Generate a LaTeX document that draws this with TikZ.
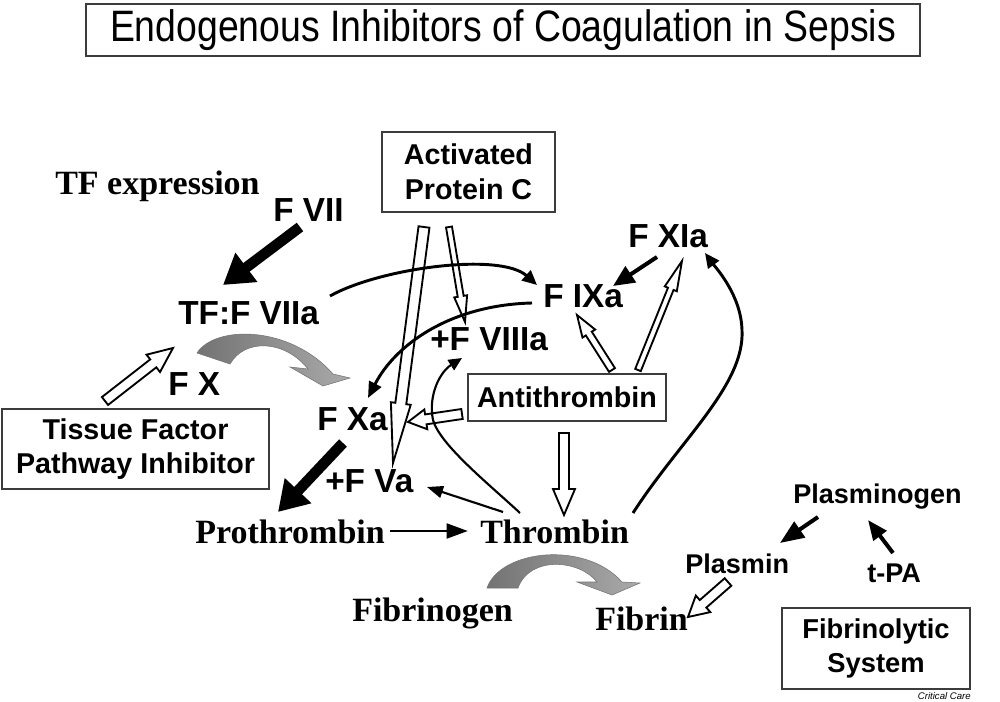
\documentclass[tikz,border=0pt]{standalone}
\usepackage{fontspec}
\setmainfont{Liberation Serif}
\newfontfamily\arialf{Liberation Sans}
\newfontfamily\narrowf[FakeStretch=0.85]{Liberation Sans}
\usetikzlibrary{arrows.meta,calc}
\definecolor{ribbonA}{RGB}{115,115,115}
\definecolor{ribbonB}{RGB}{170,170,170}
\definecolor{boxline}{RGB}{60,60,60}
\newcommand{\hollowarrow}[5]{%
  \coordinate (hb) at ($(#2)!#5*0.75pt!(#1)$);
  \draw[hollowstyle] ($(#1)!#3*0.75pt!90:(#2)$) -- ($(hb)!#3*0.75pt!90:(#2)$) -- ($(hb)!#4*0.75pt!90:(#2)$) -- (#2) -- ($(hb)!#4*0.75pt!-90:(#2)$) -- ($(hb)!#3*0.75pt!-90:(#2)$) -- ($(#1)!#3*0.75pt!-90:(#2)$) -- cycle;
}
\tikzset{
  sanslbl/.style={font=\arialf\bfseries\fontsize{25}{30}\selectfont, inner sep=0pt, anchor=base west},
  seriflbl/.style={font=\bfseries\fontsize{25.5}{30}\selectfont, inner sep=0pt, anchor=base west},
  smalllbl/.style={font=\arialf\bfseries\fontsize{20.3}{24}\selectfont, inner sep=0pt, anchor=base west},
  infobox/.style={draw=boxline, line width=0.9pt, align=center, inner sep=0pt, font=\arialf\bfseries\fontsize{21.5}{26}\selectfont},
  titlebox/.style={draw=boxline, line width=1.1pt, inner sep=0pt, font=\narrowf\fontsize{33}{36}\selectfont},
  bigarrow/.style={line width=8pt, -{Triangle[length=22pt,width=26pt]}},
  hollowstyle/.style={draw=black, line width=1.4pt, fill=white, line join=miter},
  ribbon/.style={draw=black!55, line width=0.4pt, left color=ribbonA, right color=ribbonB},
}
\begin{document}
\begin{tikzpicture}[x=0.75pt, y=-0.75pt]
\useasboundingbox (0,0) rectangle (1000,702);
\fill[white] (0,0) rectangle (1000,702);

% boxes
\node[titlebox, minimum width=834*0.75pt, minimum height=52*0.75pt] (title) at (503,30) {Endogenous Inhibitors of Coagulation in Sepsis};
\node[infobox, minimum width=173*0.75pt, minimum height=80*0.75pt] (apc) at (468.5,172) {Activated\\Protein C};
\node[infobox, minimum width=198*0.75pt, minimum height=47*0.75pt] (at) at (567,397.5) {Antithrombin};
\node[infobox, minimum width=267*0.75pt, minimum height=80*0.75pt] (tfpi) at (135.5,449) {Tissue Factor\\Pathway Inhibitor};
\node[infobox, font=\arialf\bfseries\fontsize{20.5}{26}\selectfont, minimum width=188*0.75pt, minimum height=81*0.75pt] (fibsys) at (876,648.5) {Fibrinolytic\\System};

% labels
\node[seriflbl] (tfexp) at (55,195) {TF expression};
\node[sanslbl] (f7) at (273,222) {F VII};
\node[sanslbl] (tf7a) at (178,325) {TF:F VIIa};
\node[sanslbl] (fx) at (168,395) {F X};
\node[sanslbl] (fxa) at (317,430) {F Xa};
\node[sanslbl] (fva) at (325,492) {+F Va};
\node[sanslbl] (f8a) at (430,350) {+F VIIIa};
\node[sanslbl] (f9a) at (543,308) {F IXa};
\node[sanslbl] (f11a) at (628,248) {F XIa};
\node[seriflbl] (proth) at (195,543) {Prothrombin};
\node[seriflbl] (thr) at (480,543) {Thrombin};
\node[seriflbl] (fbgn) at (352,621) {Fibrinogen};
\node[seriflbl] (fbn) at (595,630) {Fibrin};
\node[smalllbl] (plg) at (793,503) {Plasminogen};
\node[smalllbl] (pls) at (685,573) {Plasmin};
\node[smalllbl] (tpa) at (867,582) {t-PA};
\node[font=\arialf\itshape\fontsize{7.2}{8}\selectfont, inner sep=0pt, anchor=base east] (cc) at (971,699) {Critical Care};

% gray curved arrows
\path[ribbon] (197,353) .. controls (215,325) and (290,325) .. (333,374) -- (350,378) -- (323,386) -- (290,367) -- (308,369) .. controls (285,340) and (245,338) .. (230,364) -- cycle;
\path[ribbon] (487,588) .. controls (500,550) and (585,540) .. (622,582) -- (640,583) -- (612,595) -- (577,582) -- (597,582) .. controls (580,560) and (530,555) .. (518,588) -- cycle;

% hollow arrows
\coordinate (ha1s) at (105,401); \coordinate (ha1e) at (173,348);
\hollowarrow{ha1s}{ha1e}{5}{11}{25}
\coordinate (ha2s) at (424,227); \coordinate (ha2e) at (393,463);
\hollowarrow{ha2s}{ha2e}{5.5}{10}{60}
\coordinate (ha3s) at (449,227); \coordinate (ha3e) at (465,322);
\hollowarrow{ha3s}{ha3e}{3}{6.5}{26}
\coordinate (ha4s) at (462,414); \coordinate (ha4e) at (408,422);
\hollowarrow{ha4s}{ha4e}{5}{10}{18}
\coordinate (ha5s) at (564,433); \coordinate (ha5e) at (564,515);
\hollowarrow{ha5s}{ha5e}{5}{11}{26}
\coordinate (ha6s) at (612,370); \coordinate (ha6e) at (577,315);
\hollowarrow{ha6s}{ha6e}{3.5}{7.5}{22}
\coordinate (ha7s) at (638,370); \coordinate (ha7e) at (682,261);
\hollowarrow{ha7s}{ha7e}{3}{6.5}{30}
\coordinate (ha8s) at (728,582); \coordinate (ha8e) at (688,617);
\hollowarrow{ha8s}{ha8e}{5}{11}{20}

% big black arrows
\coordinate (b1s) at (300,227); \coordinate (b1e) at (223,285);
\draw[bigarrow] (b1s) -- (b1e);
\coordinate (b2s) at (343,443); \coordinate (b2e) at (278,512);
\draw[bigarrow] (b2s) -- (b2e);

% thin connectors
\coordinate (c1s) at (390,531); \coordinate (c1e) at (468,531);
\draw[line width=2.2pt, -{Triangle[length=16pt,width=11pt]}] (c1s) -- (c1e);
\coordinate (c2s) at (330,296); \coordinate (c2e) at (537,285);
\draw[line width=2.2pt, -{Triangle[length=11pt,width=10pt]}] (c2s) .. controls (380,268) and (500,252) .. (c2e);
\coordinate (c3s) at (532,303); \coordinate (c3e) at (368,398);
\draw[line width=2.2pt, -{Triangle[length=12pt,width=10pt]}] (c3s) .. controls (450,305) and (395,345) .. (c3e);
\coordinate (c4s) at (657,257); \coordinate (c4e) at (613,286);
\draw[line width=3pt, -{Triangle[length=16pt,width=14pt]}] (c4s) -- (c4e);
\coordinate (c5s) at (633,513); \coordinate (c5m) at (742,330); \coordinate (c5e) at (705,253);
\draw[line width=2.2pt, -{Triangle[length=11pt,width=10pt]}] (c5s) .. controls (680,440) and (745,385) .. (c5m) .. controls (741,295) and (716,268) .. (c5e);
\coordinate (c6s) at (520,513); \coordinate (c6m) at (433,420); \coordinate (c6e) at (462,358);
\draw[line width=1.6pt, -{Triangle[length=10pt,width=9pt]}] (c6s) .. controls (490,485) and (440,445) .. (c6m) .. controls (428,395) and (440,372) .. (c6e);
\coordinate (c7s) at (503,512); \coordinate (c7e) at (427,487);
\draw[line width=1.6pt, -{Triangle[length=12pt,width=9pt]}] (c7s) -- (c7e);
\coordinate (c8s) at (818,517); \coordinate (c8e) at (780,543);
\draw[line width=3pt, -{Triangle[length=18pt,width=14pt]}] (c8s) -- (c8e);
\coordinate (c9s) at (893,553); \coordinate (c9e) at (868,520);
\draw[line width=3pt, -{Triangle[length=15pt,width=12pt]}] (c9s) -- (c9e);
\end{tikzpicture}
\end{document}
